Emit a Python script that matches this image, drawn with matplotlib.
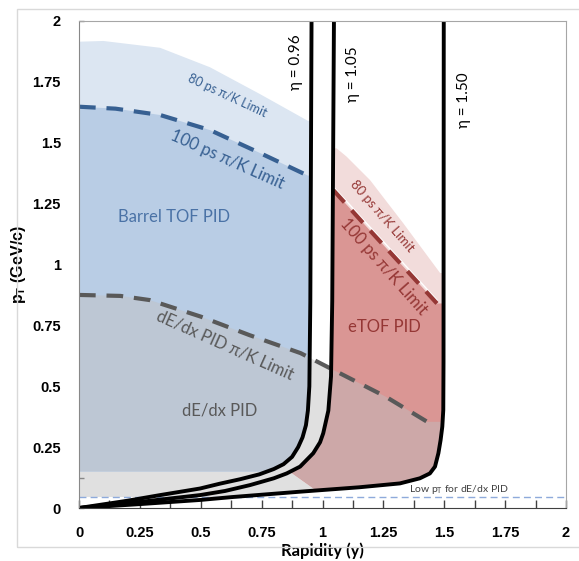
import numpy as np
import matplotlib
matplotlib.use('Agg')
import matplotlib.pyplot as plt
from matplotlib.patches import Rectangle

# ---- data (rapidity y, pT in GeV/c) ----
eta096_y = [0, 0.2, 0.333, 0.497, 0.579, 0.661, 0.74, 0.8, 0.84, 0.875, 0.9, 0.918, 0.932,
            0.94, 0.946, 0.95, 0.955]
eta096_pt = [0, 0.03, 0.053, 0.08, 0.10, 0.118, 0.138, 0.16, 0.18, 0.21, 0.25, 0.29, 0.34,
             0.40, 0.5, 0.85, 2.0]

eta105_y = [0, 0.25, 0.497, 0.6, 0.702, 0.8, 0.853, 0.908, 0.962, 0.99, 1.003, 1.024, 1.035,
            1.04, 1.047]
eta105_pt = [0, 0.025, 0.053, 0.07, 0.094, 0.122, 0.142, 0.17, 0.225, 0.27, 0.307, 0.40, 0.54,
             0.85, 2.0]

eta150_y = [0, 0.25, 0.497, 0.63, 0.908, 1.15, 1.318, 1.40, 1.441, 1.462, 1.476, 1.485, 1.492,
            1.496, 1.497, 1.498]
eta150_pt = [0, 0.016, 0.033, 0.045, 0.067, 0.085, 0.101, 0.122, 0.142, 0.17, 0.225, 0.279,
             0.334, 0.402, 0.6, 2.0]

# barrel TOF pi/K limits
blue80_y = [0, 0.1, 0.333, 0.538, 0.743, 0.94]
blue80_pt = [1.915, 1.918, 1.89, 1.81, 1.70, 1.59]
blue100_y = [0, 0.15, 0.333, 0.538, 0.743, 0.94]
blue100_pt = [1.648, 1.64, 1.614, 1.552, 1.458, 1.365]

# eTOF pi/K limits
red80_y = [1.058, 1.099, 1.195, 1.332, 1.483]
red80_pt = [1.477, 1.443, 1.347, 1.169, 0.965]
red100_y = [1.044, 1.181, 1.332, 1.47]
red100_pt = [1.306, 1.155, 0.991, 0.84]

# dE/dx pi/K limit
dedx_y = [0, 0.17, 0.29, 0.5, 0.7, 0.91, 1.07, 1.26, 1.43]
dedx_pt = [0.875, 0.871, 0.854, 0.786, 0.71, 0.636, 0.554, 0.457, 0.354]

tof_low_pt = 0.15       # bottom of barrel TOF region
dedx_low_pt = 0.045     # "Low pT for dE/dx PID"
etof_low_left = 0.149   # eTOF region corner on eta=1.05
etof_low_right = 0.072  # eTOF region corner on eta=1.50

ticks = [0, 0.25, 0.5, 0.75, 1, 1.25, 1.5, 1.75, 2]
tick_labels = ['0', '0.25', '0.5', '0.75', '1', '1.25', '1.5', '1.75', '2']

# colours
c_blue80 = '#dce6f2'
c_blue100 = '#b9cde5'
c_bluegray = '#bdc7d4'
c_gray = '#e0e0e0'
c_pink80 = '#f2dcdb'
c_red100 = '#da9694'
c_dusty = '#cda8a8'
c_blue_line = '#376092'
c_red_line = '#953735'
c_gray_line = '#595959'

TXT = ['Lato', 'DejaVu Sans']


def seg(cx, cpt, lo, hi):
    # part of an eta curve between two pT values (increasing pT)
    cx = np.asarray(cx, float)
    cpt = np.asarray(cpt, float)
    m = (cpt > lo) & (cpt < hi)
    xs = np.concatenate([[np.interp(lo, cpt, cx)], cx[m], [np.interp(hi, cpt, cx)]])
    ps = np.concatenate([[lo], cpt[m], [hi]])
    return xs, ps


fig = plt.figure(figsize=(5.79, 5.61), dpi=100)
ax = fig.add_axes([79 / 579, 53 / 561, 487 / 579, 487 / 561])

# frame around the whole chart
fig.patches.append(Rectangle((17 / 579, 14 / 561), 1.2, 538 / 561, transform=fig.transFigure,
                             fill=False, ec='#d9d9d9', lw=1, zorder=0))

# dE/dx region
ex, ep = seg(eta150_y, eta150_pt, dedx_low_pt, dedx_pt[-1])
gray_x = np.concatenate([[0], dedx_y, ex[::-1]])
gray_p = np.concatenate([[dedx_low_pt], dedx_pt, ep[::-1]])
ax.fill(gray_x, gray_p, color=c_gray, lw=0, zorder=1)

# barrel TOF regions
bx, bp = seg(eta096_y, eta096_pt, tof_low_pt, blue80_pt[-1])
ax.fill(np.concatenate([[0], blue80_y, bx[::-1]]),
        np.concatenate([[tof_low_pt], blue80_pt, bp[::-1]]), color=c_blue80, lw=0, zorder=2)
bx, bp = seg(eta096_y, eta096_pt, tof_low_pt, blue100_pt[-1])
blue_poly = ax.fill(np.concatenate([[0], blue100_y, bx[::-1]]),
                    np.concatenate([[tof_low_pt], blue100_pt, bp[::-1]]),
                    color=c_blue100, lw=0, zorder=3)[0]

# eTOF regions
lx, lp = seg(eta105_y, eta105_pt, etof_low_left, red80_pt[0])
rx, rp = seg(eta150_y, eta150_pt, etof_low_right, red80_pt[-1])
ax.fill(np.concatenate([lx, red80_y, rx[::-1]]),
        np.concatenate([lp, red80_pt, rp[::-1]]), color=c_pink80, lw=0, zorder=2)
lx, lp = seg(eta105_y, eta105_pt, etof_low_left, red100_pt[0])
rx, rp = seg(eta150_y, eta150_pt, etof_low_right, red100_pt[-1])
red_poly = ax.fill(np.concatenate([lx, red100_y, rx[::-1]]),
                   np.concatenate([lp, red100_pt, rp[::-1]]),
                   color=c_red100, lw=0, zorder=3)[0]

# overlaps of dE/dx with the TOF regions
ov = ax.fill(gray_x, gray_p, color=c_bluegray, lw=0, zorder=4)[0]
ov.set_clip_path(blue_poly)
ov = ax.fill(gray_x, gray_p, color=c_dusty, lw=0, zorder=4)[0]
ov.set_clip_path(red_poly)

# limit lines
ax.axhline(dedx_low_pt, color='#8eaadb', lw=1, ls=(0, (5, 3)), zorder=5)
ax.plot(blue100_y, blue100_pt, color=c_blue_line, lw=3, ls=(0, (4, 2.6)), zorder=6)
ax.plot(dedx_y, dedx_pt, color=c_gray_line, lw=3, ls=(0, (4, 2.6)), zorder=6)
ax.plot(red100_y, np.array(red100_pt) + 0.014, color='white', lw=1, zorder=5)
ax.plot(red100_y, red100_pt, color=c_red_line, lw=3, ls=(0, (4, 2.6)), zorder=6)

# eta curves
for cy, cp in [(eta096_y, eta096_pt), (eta105_y, eta105_pt), (eta150_y, eta150_pt)]:
    ax.plot(cy, cp, color='black', lw=2.8, solid_capstyle='butt', solid_joinstyle='round',
            zorder=7)

# labels inside the chart
ax.text(0.608, 1.692, '80 ps \u03c0/K Limit', color=c_blue_line, fontsize=9, family=TXT,
        rotation=-25, ha='center', va='center', zorder=8)
ax.text(0.608, 1.429, '100 ps \u03c0/K Limit', color=c_blue_line, fontsize=12, family=TXT,
        rotation=-24, ha='center', va='center', zorder=8)
ax.text(0.39, 1.195, 'Barrel TOF PID', color='#4a72a6', fontsize=12, family=TXT,
        ha='center', va='center', zorder=8)
ax.text(0.6, 0.67, 'dE/dx PID \u03c0/K Limit', color=c_gray_line, fontsize=12, family=TXT,
        rotation=-24, ha='center', va='center', zorder=8)
ax.text(0.579, 0.402, 'dE/dx PID', color=c_gray_line, fontsize=12, family=TXT,
        ha='center', va='center', zorder=8)
ax.text(1.253, 0.744, 'eTOF PID', color=c_red_line, fontsize=12, family=TXT,
        ha='center', va='center', zorder=8)
ax.text(1.246, 1.2, '80 ps \u03c0/K Limit', color=c_red_line, fontsize=9.5, family=TXT,
        rotation=-49, ha='center', va='center', zorder=8)
ax.text(1.253, 0.991, '100 ps \u03c0/K Limit', color=c_red_line, fontsize=12, family=TXT,
        rotation=-48.5, ha='center', va='center', zorder=8)
for xe, ye, lab in [(0.891, 1.83, '\u03b7 = 0.96'), (1.127, 1.782, '\u03b7 = 1.05'),
                    (1.583, 1.676, '\u03b7 = 1.50')]:
    ax.text(xe, ye, lab, color='black', fontsize=11, family=TXT, rotation=90,
            ha='center', va='center', zorder=8)
ax.text(1.355, 0.074, 'Low p$_\\mathregular{T}$ for dE/dx PID', color='#404040', fontsize=7.5,
        family=TXT, ha='left', va='center', zorder=8)

# axes styling
ax.set_xlim(0, 2)
ax.set_ylim(0, 2)
ax.set_xticks(ticks)
ax.set_xticklabels(tick_labels, fontsize=10.5, fontweight='bold', family='Liberation Sans')
ax.set_yticks(ticks)
ax.set_yticklabels(tick_labels, fontsize=10.5, fontweight='bold', family='Liberation Sans')
ax.set_xticks(np.arange(0.125, 2, 0.25), minor=True)
ax.set_yticks(np.arange(0.125, 2, 0.25), minor=True)
ax.tick_params(axis='x', which='both', direction='in', length=6, width=1, color='#404040',
               pad=13, top=False)
ax.tick_params(axis='y', which='both', direction='in', length=3.5, width=1, color='#888888',
               pad=13, right=False)
for s in ['top', 'right']:
    ax.spines[s].set_color('#a6a6a6')
ax.spines['left'].set_color('#888888')
ax.spines['bottom'].set_color('#404040')
for s in ax.spines.values():
    s.set_zorder(9)

ax.set_xlabel('Rapidity (y)', fontsize=12, fontweight='bold', family=TXT, labelpad=2)
ax.set_ylabel('p$_\\mathregular{T}$ (GeV/c)', fontsize=11.5, fontweight='bold',
              family='Liberation Sans', labelpad=3)

fig.savefig('out.png', dpi=100)
